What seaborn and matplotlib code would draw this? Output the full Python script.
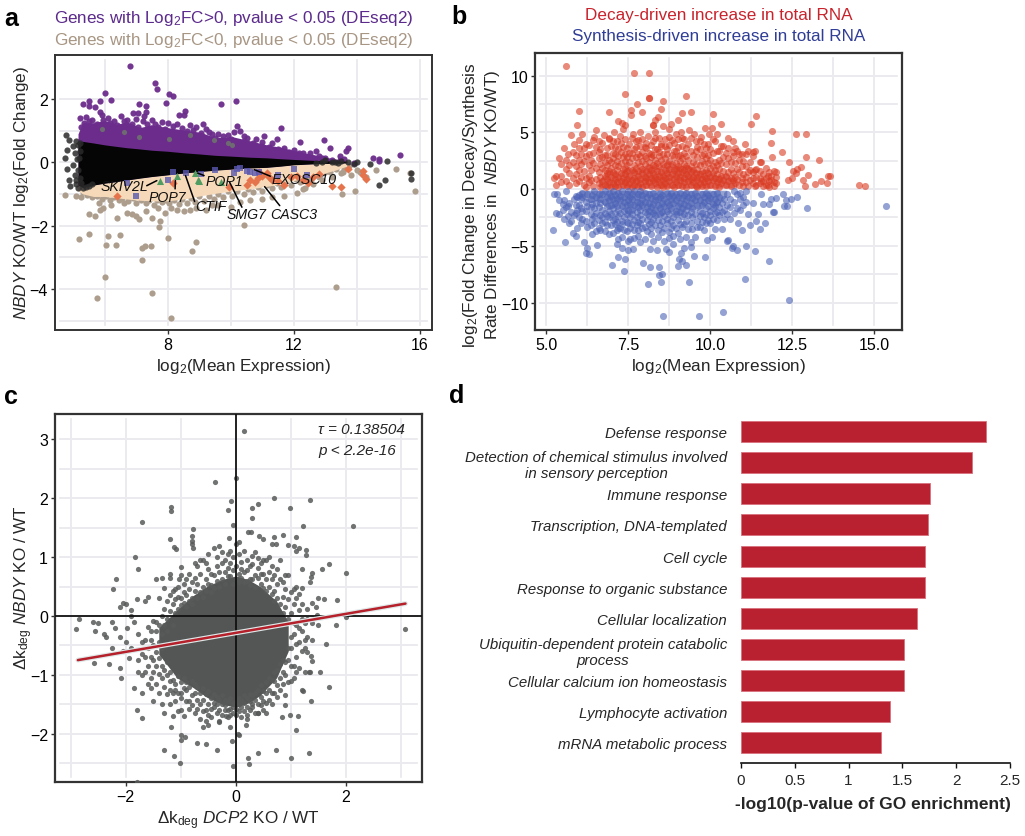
import matplotlib
matplotlib.use('Agg')
import matplotlib.pyplot as plt
from matplotlib.patches import Rectangle
import seaborn as sns
import numpy as np

# panel a - MA plot: the dense wedge is kept as envelopes, sparse genes as points
a_env_x = [5.15, 5.3, 5.64, 6.0, 6.38, 6.7, 7.12, 7.5, 7.97, 8.5, 9.03, 9.5, 10.08, 10.6, 11.14, 11.6, 11.99, 12.4, 12.84, 13.3, 13.68]
black_hi = [0.62, 0.66, 0.61, 0.55, 0.5, 0.46, 0.42, 0.38, 0.35, 0.3, 0.26, 0.22, 0.19, 0.16, 0.14, 0.11, 0.09, 0.07, 0.05, 0.04, 0.03]
black_lo = [-0.72, -0.8, -0.72, -0.66, -0.61, -0.56, -0.5, -0.45, -0.4, -0.34, -0.29, -0.25, -0.21, -0.18, -0.16, -0.12, -0.08, -0.06, -0.04, -0.03, -0.02]
purple_hi = [0.9, 1.25, 1.25, 1.32, 1.2, 1.28, 1.1, 1.18, 1.1, 1.02, 0.95, 0.78, 0.8, 0.68, 0.55, 0.47, 0.37, 0.28, 0.2, 0.1, 0.05]
peach_lo = [-0.9, -1.0, -1.08, -1.08, -1.12, -1.16, -1.2, -1.22, -1.22, -1.16, -1.06, -0.98, -0.9, -0.84, -0.76, -0.68, -0.58, -0.47, -0.38, -0.25, -0.12]

a_purple = [(6.8, 3.03), (7.6, 2.5), (7.67, 2.3), (6.0, 2.2), (8.05, 2.15), (8.15, 2.1), (6.2, 1.97), (5.5, 1.95), (5.85, 1.95),
            (5.3, 1.85), (5.5, 1.78), (5.7, 1.75), (7.95, 1.87), (9.7, 1.85), (10.15, 1.93), (7.1, 1.85), (7.3, 1.78), (5.85, 1.6),
            (7.3, 1.6), (8.55, 1.63), (8.5, 1.5), (8.35, 1.48), (6.9, 1.55), (7.05, 1.55), (7.25, 1.45), (7.5, 1.35), (9.1, 1.2),
            (10.2, 1.15), (10.4, 0.83), (11.6, 1.08), (11.05, 0.83), (11.45, 0.75), (12.2, 0.65), (12.95, 0.7), (13.15, 0.45),
            (13.7, 0.45), (13.65, 0.35), (13.45, 0.2), (13.6, 0.1), (14.5, 0.15), (14.7, 0.1), (14.7, 0.03), (15.35, 0.22),
            (12.7, 0.35), (12.8, 0.2), (12.5, 0.3), (12.6, 0.15), (12.9, 0.15), (5.2, 1.4), (5.4, 1.42), (5.6, 1.35), (5.9, 1.5),
            (6.1, 1.4), (6.3, 1.3), (6.5, 1.45), (6.7, 1.35), (7.0, 1.38), (7.2, 1.3), (7.6, 1.2), (7.8, 1.28), (8.0, 1.25),
            (8.3, 1.2), (8.7, 1.18), (8.9, 1.1), (9.2, 1.05), (9.4, 0.9), (9.6, 0.88), (9.9, 0.85), (10.1, 0.95), (10.3, 1.0),
            (10.5, 0.78), (10.8, 0.72), (11.0, 0.65), (11.3, 0.6), (11.7, 0.45), (12.0, 0.4), (12.3, 0.28), (13.0, 0.12), (13.9, -0.02),
            (5.25, 1.1), (5.35, 1.25), (5.5, 1.3), (5.75, 1.22), (5.95, 1.35), (6.15, 1.25), (6.4, 1.18), (6.6, 1.3), (6.85, 1.2),
            (7.05, 1.1), (7.35, 1.22), (7.45, 1.08), (7.7, 1.12), (7.9, 1.05), (8.15, 1.15), (8.45, 1.08), (8.6, 0.98), (8.8, 1.02),
            (9.05, 0.92), (9.3, 0.95), (9.5, 0.78), (9.75, 0.82), (10.0, 0.72), (10.4, 0.68), (10.7, 0.6), (10.95, 0.52), (11.2, 0.48),
            (11.5, 0.42), (11.85, 0.33), (12.15, 0.3), (12.45, 0.18), (12.75, 0.1), (13.2, 0.08), (13.45, 0.06)]
a_grey = [(5.9, 1.05), (6.6, 0.95), (7.1, 0.8), (8.05, 0.75), (8.7, 0.85), (9.9, 0.62), (10.05, 0.55), (9.45, 0.7)]
a_black = [(4.77, 0.85), (4.85, 0.7), (4.8, 0.4), (4.75, 0.15), (4.8, -0.22), (4.85, -0.55), (4.9, -0.75), (5.0, 0.5), (5.05, 0.3),
           (5.0, -0.1), (5.05, -0.4), (5.1, -0.7), (5.15, -0.8), (5.1, 0.68), (5.12, 0.1), (5.08, -0.55), (5.3, -0.82), (5.5, -0.75),
           (13.2, 0.02), (13.4, -0.02), (13.7, 0.02), (12.9, 0.02), (14.0, 0.0), (13.9, -0.05), (14.4, -0.05), (14.95, 0.05),
           (14.9, -0.55), (14.7, -0.73), (15.7, -0.35), (15.7, -0.53), (13.0, 0.06), (13.5, 0.03), (12.7, -0.03), (13.3, 0.0),
           (5.15, 0.55), (5.2, 0.35), (5.18, 0.15), (5.14, -0.25), (5.2, -0.5), (5.25, -0.65), (5.22, 0.62), (5.4, -0.78), (5.6, -0.7)]
a_tan = [(5.18, -2.44), (5.5, -2.26), (6.04, -2.6), (6.1, -2.33), (6.35, -2.61), (6.47, -2.3), (6.0, -3.61), (5.76, -4.29), (7.49, -4.13),
         (8.1, -4.92), (13.34, -3.93), (7.19, -2.7), (7.29, -2.63), (7.47, -2.65), (7.19, -3.09), (8.02, -2.4), (8.76, -2.81), (8.89, -2.52),
         (10.43, -1.98), (7.72, -2.05), (7.76, -1.84), (15.85, -0.9), (15.25, -0.21), (15.69, -0.33), (13.95, -0.9), (13.52, -1.0), (12.3, -0.86),
         (4.75, -1.02), (5.1, -1.05), (5.25, -1.1), (5.5, -1.65), (5.7, -1.7), (5.85, -1.5), (5.95, -1.45), (6.2, -1.35), (6.4, -1.75),
         (6.7, -1.6), (6.85, -1.65), (7.0, -1.7), (7.1, -1.78), (7.3, -1.55), (7.5, -1.75), (7.9, -1.6), (8.1, -1.45), (8.3, -1.5),
         (8.5, -1.55), (8.7, -1.5), (8.9, -1.45), (9.2, -1.5), (9.6, -1.35), (10.0, -1.4), (10.3, -1.25), (10.6, -1.2), (11.0, -1.15),
         (11.3, -1.1), (11.7, -1.05), (12.1, -0.98), (12.35, -0.82), (12.6, -0.7), (12.9, -0.55), (13.2, -0.45), (13.5, -0.35), (13.8, -0.4),
         (14.1, -0.3), (14.3, -0.45), (14.0, -0.25), (13.6, -0.2), (14.6, -0.25), (5.8, -1.3), (6.6, -1.3), (7.7, -1.45), (9.4, -1.35),
         (5.3, -0.95), (5.45, -1.02), (5.6, -1.1), (5.75, -1.05), (5.9, -1.15), (6.05, -1.05), (6.15, -1.2), (6.3, -1.1), (6.45, -1.2), (6.55, -1.12),
         (6.75, -1.22), (6.9, -1.12), (7.0, -1.3), (7.15, -1.18), (7.3, -1.28), (7.4, -1.18), (7.55, -1.35), (7.65, -1.2), (7.8, -1.25), (7.95, -1.18),
         (8.05, -1.3), (8.2, -1.2), (8.35, -1.32), (8.45, -1.15), (8.6, -1.3), (8.75, -1.12), (8.85, -1.25), (9.0, -1.08), (9.15, -1.22), (9.3, -1.05),
         (9.45, -1.15), (9.6, -1.0), (9.75, -1.1), (9.9, -0.92), (10.05, -1.05), (10.2, -0.9), (10.4, -1.0), (10.55, -0.85), (10.7, -0.95), (10.85, -0.78),
         (11.0, -0.9), (11.15, -0.72), (11.3, -0.82), (11.45, -0.66), (11.6, -0.78), (11.75, -0.6), (11.9, -0.72), (12.05, -0.52), (12.2, -0.62), (12.35, -0.45),
         (12.5, -0.55), (12.65, -0.38), (12.8, -0.45), (13.0, -0.3), (13.15, -0.32), (13.35, -0.22), (13.55, -0.3), (13.75, -0.12)]
a_orange = [(6.4, -1.07), (8.15, -0.65), (9.95, -0.78), (10.5, -0.72), (10.6, -0.55), (10.75, -0.62), (10.85, -0.5), (11.0, -0.42), (11.15, -0.35),
            (11.3, -0.55), (11.5, -0.6), (11.7, -0.72), (11.9, -0.45), (12.1, -0.42), (12.3, -0.55), (12.6, -0.45), (12.8, -0.38), (13.2, -0.75),
            (13.5, -0.78), (13.7, -0.2), (14.2, -0.4), (14.3, -0.52), (14.2, -0.28), (10.9, -0.3), (11.2, -0.48), (12.45, -0.65)]
a_square = [(6.7, -0.65), (7.0, -1.07), (8.0, -0.55), (8.15, -0.32), (9.05, -0.37), (9.5, -0.25), (10.1, -0.35), (10.2, -0.2), (10.3, -0.18),
            (10.5, -0.28), (10.6, -0.3), (10.75, -0.33), (10.9, -0.32), (11.5, -0.4), (12.0, -0.2), (12.4, -0.4), (8.56, -0.35)]
a_triangle = [(7.75, -0.58), (8.3, -0.42), (8.85, -0.35), (8.95, -0.55), (9.0, -0.58), (9.7, -0.62)]
a_labels = ['SKIV2L', 'POP7', 'CTIF', 'POP1', 'SMG7', 'CASC3', 'EXOSC10']
a_label_x = [6.61, 8.0, 9.37, 9.8, 10.5, 12.01, 12.33]
a_label_y = [-0.74, -1.1, -1.39, -0.58, -1.65, -1.65, -0.53]
a_tip_x = [7.65, 8.24, 8.56, 8.94, 9.96, 11.07, 10.74]
a_tip_y = [-0.58, -0.58, -0.42, -0.34, -0.63, -0.77, -0.23]
a_tail_x = [7.33, 8.23, 8.85, 9.15, 10.35, 11.55, 11.25]
a_tail_y = [-0.74, -0.84, -1.24, -0.42, -1.42, -1.37, -0.44]

# panel b
red_core_x = [6.6, 6.9, 7.2, 7.5, 7.8, 8.1, 8.4, 8.7, 9.0, 9.3, 9.6, 9.9, 10.2, 10.5, 10.8]
red_core_hi = [0.8, 1.7, 1.4, 2.0, 1.6, 2.3, 1.9, 2.6, 2.0, 2.2, 1.6, 1.8, 1.2, 1.4, 0.6]
blue_core_x = [6.0, 6.3, 6.6, 6.9, 7.2, 7.5, 7.8, 8.1, 8.4, 8.7, 9.0, 9.3, 9.6, 9.9, 10.2, 10.5]
blue_core_lo = [-0.6, -1.2, -1.0, -1.8, -1.5, -2.3, -1.7, -2.1, -2.5, -2.0, -2.4, -1.7, -1.9, -1.3, -1.5, -0.6]
red_points = [(5.6, 10.85), (7.68, 10.26), (8.14, 10.26), (7.4, 8.35), (8.12, 8.06), (8.12, 8.06), (9.25, 8.24), (8.57, 7.74), (7.75, 7.53), (6.0, 6.88),
              (6.9, 6.82), (7.57, 7.0), (7.58, 6.53), (7.93, 6.82), (8.51, 7.03), (9.13, 6.68), (9.4, 6.76), (10.07, 6.59), (11.4, 6.41), (11.23, 5.76),
              (10.33, 5.7), (5.95, 5.62), (8.24, 5.68), (8.24, 5.68), (8.41, 6.38), (8.31, 6.12), (7.18, 6.03), (7.3, 5.82), (7.4, 5.65), (11.88, 5.09),
              (12.61, 4.82), (12.92, 4.85), (11.86, 4.06), (12.19, 3.26), (12.91, 2.85), (11.88, 2.82), (13.3, 2.56), (12.41, 2.41), (12.76, 1.97), (12.65, 1.76),
              (12.53, 1.62), (12.97, 1.26), (12.37, 0.82), (12.83, 0.76), (12.88, 0.24), (13.18, 0.44), (13.38, 0.74), (13.56, 0.5), (13.58, 1.2), (13.65, 1.2),
              (14.53, 0.38), (14.72, 0.24), (5.25, 0.95), (5.4, 2.7), (5.55, 3.65), (5.65, 3.1), (5.75, 4.8), (5.85, 4.0), (6.0, 4.3), (6.1, 4.85),
              (6.45, 4.6), (6.5, 5.2), (6.75, 4.8), (6.9, 4.5), (7.05, 5.0), (7.25, 4.7), (7.35, 5.3), (7.65, 4.9), (7.85, 5.0), (8.1, 4.7),
              (8.3, 5.0), (8.55, 5.6), (8.75, 5.3), (8.8, 5.75), (8.95, 4.9), (9.0, 6.1), (9.1, 5.0), (9.35, 5.2), (9.5, 4.9), (9.7, 4.6),
              (9.85, 5.4), (9.95, 4.9), (10.05, 5.4), (10.2, 4.9), (10.55, 4.5), (10.7, 4.2), (11.05, 4.0), (11.3, 3.3), (12.5, 1.0), (12.6, 1.4)]
# x position, then the y values read along that column
red_columns = [(5.3, [1.2, 0.4]), (5.45, [1.2, 0.6, 2.2]), (5.6, [1.8, 0.7, 2.6]), (5.7, [0.4, 1.4, 2.1]), (5.8, [2.4, 1.0, 3.3]), (5.9, [1.3, 0.5, 2.0, 3.0]),
               (6.0, [0.7, 1.7, 2.6, 3.6]), (6.05, [2.2, 1.1, 3.1]), (6.15, [3.6, 1.6, 0.4, 2.5]), (6.2, [1.0, 2.9, 4.0, 0.2]), (6.3, [3.9, 1.2, 2.1, 3.1, 0.6]),
               (6.35, [0.8, 2.6, 1.7]), (6.42, [3.2, 2.3, 0.3, 4.3]), (6.5, [1.9, 0.9, 3.7]), (6.6, [2.7, 0.5, 1.5, 3.3, 4.2]), (6.65, [3.5, 1.1, 2.2, 0.2]),
               (6.7, [4.1, 0.7, 1.9, 2.8]), (6.78, [1.2, 3.0, 0.4, 2.4, 1.7]), (6.85, [3.0, 0.9, 2.1, 1.4, 0.3, 3.6]), (6.9, [1.6, 2.6, 0.6, 4.4]), (6.97, [2.4, 3.8, 1.1, 0.2, 1.9]),
               (7.03, [3.2, 0.5, 1.5, 2.7, 4.2]), (7.1, [0.9, 2.1, 3.1, 1.3, 0.3, 3.7]), (7.15, [4.2, 1.7, 2.5, 0.6]), (7.2, [2.9, 1.1, 0.2, 2.0, 3.5]), (7.27, [1.4, 3.3, 0.7, 2.3, 4.1]),
               (7.33, [0.4, 1.8, 2.8, 3.7, 1.0]), (7.4, [2.5, 1.3, 0.6, 3.1, 4.4, 1.9]), (7.47, [2.8, 0.3, 1.6, 2.1, 0.9, 3.6]), (7.53, [4.0, 1.2, 2.4, 0.5, 3.2]), (7.6, [3.2, 1.7, 0.8, 2.7, 0.2, 4.5]),
               (7.67, [1.0, 2.1, 3.5, 0.4, 1.5]), (7.73, [3.7, 0.7, 2.8, 1.9, 4.2]), (7.8, [4.3, 1.2, 0.3, 2.4, 3.1, 1.6]), (7.87, [0.9, 2.0, 2.9, 3.8, 0.5]), (7.93, [3.3, 1.4, 2.5, 0.2, 4.4, 1.8]),
               (8.0, [2.9, 0.7, 1.1, 2.2, 3.7]), (8.05, [3.6, 1.6, 0.4, 2.7, 1.0, 4.1]), (8.12, [1.9, 3.2, 0.6, 2.4, 1.3]), (8.18, [3.1, 0.3, 1.7, 2.8, 3.9, 1.0]), (8.25, [4.2, 2.1, 0.8, 1.4, 3.0]),
               (8.3, [0.5, 2.6, 1.1, 3.5, 2.0, 4.5]), (8.37, [3.5, 1.6, 0.2, 2.3, 0.9]), (8.43, [4.5, 2.9, 1.2, 0.6, 2.0, 3.3]), (8.5, [1.5, 3.8, 0.4, 2.6, 4.0]), (8.55, [2.2, 0.8, 3.1, 1.2, 0.2]),
               (8.62, [3.8, 1.7, 2.7, 0.5, 4.4, 1.0]), (8.68, [3.1, 0.3, 2.1, 1.4, 3.5]), (8.75, [2.5, 0.7, 1.8, 3.9, 1.1, 4.6]), (8.82, [1.3, 3.0, 0.4, 2.2, 4.3]), (8.88, [4.1, 0.9, 1.7, 2.8, 3.4, 0.2]),
               (8.95, [3.4, 1.2, 2.3, 0.6, 1.8]), (9.0, [2.9, 0.4, 1.4, 4.4, 2.0, 3.7]), (9.07, [3.0, 0.8, 1.9, 2.5, 1.1]), (9.13, [3.8, 0.3, 1.5, 2.7, 4.5]), (9.2, [4.4, 1.0, 2.2, 0.6, 3.2, 1.7]),
               (9.27, [2.9, 0.2, 1.3, 2.0, 3.6]), (9.33, [1.8, 0.7, 2.6, 4.0, 1.2]), (9.4, [3.4, 0.4, 2.0, 1.5, 4.5, 0.9]), (9.47, [2.4, 1.1, 3.0, 0.6, 1.7]), (9.55, [4.2, 1.4, 0.3, 2.2, 3.4]),
               (9.6, [2.8, 0.8, 1.8, 1.1, 3.7, 0.2]), (9.67, [3.5, 1.3, 2.1, 0.5, 4.2]), (9.73, [2.5, 0.9, 1.6, 3.0, 0.3]), (9.8, [3.1, 1.2, 0.6, 2.2, 4.0]), (9.87, [1.7, 0.3, 2.7, 1.0, 3.6]),
               (9.93, [4.0, 1.4, 0.7, 2.3, 3.0]), (10.0, [3.5, 0.4, 1.9, 1.1, 2.6]), (10.07, [2.0, 0.8, 3.2, 1.4, 4.4]), (10.13, [4.2, 1.0, 0.3, 2.4, 1.7]), (10.2, [1.3, 3.4, 0.6, 2.1]),
               (10.27, [3.4, 0.9, 1.8, 0.2, 2.6]), (10.33, [2.3, 1.2, 0.5, 3.8]), (10.4, [3.8, 1.6, 0.8, 2.8]), (10.47, [0.4, 2.2, 1.2, 3.2]), (10.55, [2.7, 0.7, 1.5, 3.6]),
               (10.62, [1.8, 0.3, 2.4, 1.0]), (10.7, [3.3, 0.8, 1.4, 2.9]), (10.75, [2.3, 0.5, 3.6, 1.1]), (10.82, [3.4, 1.8, 0.9]), (10.88, [1.5, 0.4, 2.6, 3.1]),
               (10.95, [3.1, 1.0, 2.0, 0.6]), (11.0, [1.3, 0.3, 2.5]), (11.1, [2.0, 1.1, 0.6, 3.1]), (11.15, [3.4, 1.5, 0.3]), (11.2, [0.8, 1.7, 2.4]),
               (11.3, [1.5, 0.5, 1.0, 2.9]), (11.35, [1.7, 0.3, 3.4]), (11.4, [0.4, 1.1, 1.8]), (11.5, [1.0, 2.4, 1.6, 0.5]), (11.55, [2.4, 0.7]), (11.6, [0.7, 1.3, 0.3]),
               (11.7, [1.0, 0.4, 1.9]), (11.75, [0.4, 1.2]), (11.8, [1.5, 0.7, 0.2]), (11.85, [0.8, 1.2]), (11.95, [0.6, 1.6, 0.3]), (12.0, [1.1, 0.5, 1.5])]
blue_points = [(5.2, -3.6), (5.3, -2.1), (5.57, -4.7), (5.8, -3.9), (5.9, -4.1), (6.15, -4.7), (6.2, -5.6), (6.25, -5.2), (6.3, -5.75), (6.55, -4.9),
               (7.0, -6.65), (7.15, -4.8), (7.2, -5.95), (7.32, -5.2), (7.38, -7.25), (7.4, -6.2), (7.5, -5.4), (7.65, -5.3), (7.85, -4.7), (7.95, -6.55),
               (8.1, -8.4), (8.15, -5.3), (8.15, -6.85), (8.38, -5.35), (8.45, -7.6), (8.45, -6.85), (8.5, -8.15), (8.52, -7.45), (8.55, -11.2), (8.65, -5.3),
               (8.75, -5.5), (8.85, -4.8), (9.0, -6.8), (9.05, -6.2), (9.1, -5.6), (9.15, -6.3), (9.2, -5.2), (9.25, -6.7), (9.35, -8.15), (9.4, -5.1),
               (9.5, -5.9), (9.65, -11.2), (9.85, -5.95), (9.9, -4.5), (10.05, -4.2), (10.37, -10.8), (10.5, -4.6), (10.55, -4.5), (10.65, -5.2), (10.7, -5.0),
               (10.8, -5.4), (10.85, -3.0), (10.95, -3.6), (11.05, -7.95), (11.1, -5.05), (11.2, -3.2), (11.35, -5.45), (11.4, -2.8), (11.5, -3.5), (11.55, -0.4),
               (11.6, -1.3), (11.65, -3.0), (11.8, -1.3), (11.8, -6.3), (11.85, -0.9), (11.9, -2.0), (11.95, -2.0), (12.0, -0.8), (12.2, -0.4), (12.25, -1.5),
               (12.3, -1.0), (12.35, -1.45), (12.4, -9.75), (12.45, -0.9), (12.65, -0.7), (12.93, -1.65), (15.35, -1.5), (11.3, -1.2), (11.15, -2.2), (11.45, -2.2)]
blue_columns = [(5.25, [-0.4]), (5.32, [-0.45]), (5.4, [-1.0, -2.2]), (5.5, [-1.3, -1.8]), (5.55, [-2.6, -1.0]), (5.6, [-0.2, -1.6]), (5.65, [-1.5, -2.4]), (5.7, [-3.0, -1.2]), (5.75, [-2.8, -2.0]),
                (5.85, [-0.9, -2.3]), (5.9, [-2.1, -1.4, -0.6]), (5.95, [-3.4, -0.7, -1.8]), (6.0, [-1.4, -0.5, -2.5]), (6.05, [-3.0, -0.9, -1.7]), (6.1, [-0.7, -2.6, -1.9, -0.3]), (6.2, [-1.9, -2.8, -1.1]),
                (6.25, [-0.4, -3.3, -1.5]), (6.35, [-3.2, -0.9, -2.2, -1.6]), (6.4, [-4.0, -1.3, -0.5, -2.6]), (6.45, [-2.4, -0.2, -3.0, -1.7]), (6.5, [-3.7, -1.2, -0.7, -2.1]), (6.6, [-1.6, -2.7, -0.4, -3.4]),
                (6.65, [-2.3, -0.9, -1.2, -3.6]), (6.7, [-3.0, -0.4, -1.8, -2.5]), (6.78, [-1.1, -3.7, -2.1, -0.2, -2.9]), (6.85, [-2.4, -0.7, -1.5, -3.2]), (6.9, [-2.5, -4.0, -1.0, -0.3, -1.9]), (6.97, [-3.2, -0.6, -2.2, -1.4]),
                (7.02, [-3.9, -1.7, -0.2, -2.7, -0.9]), (7.1, [-3.1, -1.2, -2.1, -0.5, -2.6]), (7.15, [-1.5, -3.6, -0.9, -2.9]), (7.2, [-0.3, -2.4, -1.8, -3.4, -4.4]), (7.25, [-3.4, -1.0, -2.1, -0.6]), (7.3, [-4.2, -1.5, -2.8, -0.2, -3.1]),
                (7.37, [-2.5, -1.1, -0.7, -3.6, -1.9]), (7.45, [-3.7, -2.2, -0.4, -1.4, -2.9]), (7.5, [-1.0, -3.0, -4.6, -1.8, -0.2]), (7.55, [-4.4, -2.5, -0.7, -1.3, -3.4]), (7.6, [-3.1, -1.8, -2.2, -0.4, -0.9]), (7.68, [-4.3, -1.4, -2.7, -0.2, -3.6]),
                (7.75, [-2.0, -3.2, -0.7, -1.1, -2.5]), (7.8, [-3.6, -1.6, -0.4, -2.9, -4.1]), (7.87, [-1.2, -2.3, -3.0, -0.2, -1.8]), (7.93, [-3.4, -0.9, -2.6, -1.4, -0.5]), (8.0, [-3.3, -2.0, -4.4, -1.1, -0.3]), (8.07, [-2.7, -0.7, -3.7, -1.6, -2.2]),
                (8.13, [-1.2, -3.1, -0.4, -2.4, -1.9]), (8.2, [-4.0, -1.6, -2.9, -0.8, -3.4]), (8.25, [-4.6, -0.3, -2.1, -1.3, -2.6]), (8.32, [-3.2, -1.8, -0.6, -2.3, -1.0]), (8.4, [-3.6, -0.9, -2.7, -1.4, -4.2]), (8.47, [-2.2, -0.3, -3.2, -1.7, -0.7]),
                (8.53, [-1.2, -2.8, -3.8, -2.0, -0.5]), (8.6, [-4.6, -1.5, -0.9, -2.4, -3.4]), (8.67, [-3.0, -0.3, -1.9, -2.6, -1.1]), (8.73, [-3.8, -1.4, -2.2, -0.6, -4.3]), (8.8, [-2.8, -0.9, -1.7, -3.4, -0.3]), (8.87, [-1.2, -2.5, -0.6, -3.2, -4.1]),
                (8.95, [-3.4, -1.9, -0.4, -2.2, -1.0]), (9.0, [-3.9, -1.5, -2.7, -0.7]), (9.07, [-2.0, -0.3, -3.1, -1.2, -4.4]), (9.13, [-3.3, -2.4, -0.8, -1.7]), (9.2, [-3.1, -0.5, -1.3, -2.2]), (9.27, [-4.2, -1.8, -2.8, -0.3, -1.0]),
                (9.33, [-2.3, -0.7, -3.5, -1.5]), (9.4, [-3.0, -1.2, -0.4, -2.0, -4.7]), (9.45, [-3.5, -1.7, -2.5, -0.8]), (9.52, [-4.2, -1.0, -2.2, -0.3]), (9.6, [-2.8, -1.4, -0.6, -3.3]), (9.67, [-3.3, -1.9, -1.0, -2.4]),
                (9.73, [-0.4, -2.1, -1.4, -2.9]), (9.8, [-3.6, -1.1, -2.5, -0.7]), (9.87, [-1.7, -0.3, -2.2, -3.0]), (9.93, [-2.7, -1.0, -1.5, -0.5]), (10.0, [-3.0, -1.9, -0.8, -2.3]), (10.07, [-1.3, -2.6, -0.4, -1.7]),
                (10.13, [-2.1, -0.9, -3.5, -1.5]), (10.2, [-2.7, -1.1, -2.0, -0.3]), (10.27, [-0.7, -1.6, -2.3]), (10.35, [-3.5, -1.2, -2.0]), (10.42, [-0.9, -1.8, -2.6]), (10.5, [-0.4, -2.2, -1.4]),
                (10.6, [-2.6, -0.9, -1.6]), (10.72, [-1.1, -0.2, -2.1]), (10.8, [-0.4, -1.7]), (10.9, [-1.8, -0.3, -0.9]), (11.0, [-0.7, -1.4]), (11.1, [-0.2, -1.1])]

# panel c
c_core_x = [-1.4, -1.07, -0.77, -0.53, -0.25, 0.0, 0.22, 0.44, 0.74, 0.95]
c_core_hi = [-0.2, 0.1, 0.35, 0.5, 0.62, 0.68, 0.62, 0.5, 0.25, -0.1]
c_core_lo = [-0.65, -1.05, -1.22, -1.38, -1.5, -1.55, -1.48, -1.35, -1.05, -0.6]
c_points = [(0.15, 3.14), (-0.38, 2.28), (0.0, 2.35), (-0.09, 1.95), (-0.15, 1.8), (0.3, 1.84), (0.4, 1.9), (0.7, 2.0), (0.98, 1.83), (1.35, 1.97),
            (-1.18, 1.85), (-1.18, 1.78), (-1.7, 1.6), (0.3, 1.67), (-0.05, 1.55), (1.22, 1.52), (2.12, 1.52), (0.22, 1.43), (0.27, 1.43), (-0.78, 1.48),
            (-0.79, 1.35), (-0.79, 1.28), (-0.8, 1.22), (-0.78, 1.15), (-1.2, 1.3), (-1.12, 1.17), (-1.08, 1.14), (-1.84, 1.0), (-1.77, 0.8), (-2.18, 0.63),
            (-2.24, 0.45), (-0.12, 1.33), (0.06, 1.25), (0.42, 1.36), (0.5, 1.3), (0.7, 1.34), (0.85, 1.37), (1.1, 1.34), (0.65, 1.23), (0.72, 1.23),
            (0.95, 1.2), (1.05, 1.18), (1.1, 1.1), (1.15, 1.15), (1.28, 1.12), (1.28, 1.03), (1.7, 0.88), (2.0, 0.73), (1.57, 0.8), (1.38, 0.73),
            (1.37, 0.66), (1.34, 0.58), (1.2, 0.8), (-1.0, 0.83), (-1.0, 0.7), (-1.2, 0.72), (-1.2, 0.65), (-1.03, 0.62), (-1.35, 0.65), (-1.45, 0.62),
            (-1.65, 0.25), (-1.6, 0.33), (-1.9, 0.1), (-2.0, 0.2), (-2.05, 0.22), (-2.1, 0.15), (-1.8, 0.28), (-1.9, 0.0), (-2.25, -0.1), (-2.6, -0.1),
            (-2.5, -0.12), (-2.85, -0.05), (-2.9, -0.22), (-2.55, -0.25), (-2.4, -0.3), (-2.35, -0.35), (-2.2, -0.2), (-2.1, -0.35), (-1.98, -0.2), (-2.0, -0.45),
            (-1.85, -0.1), (-2.25, -0.55), (-2.3, -0.82), (-2.57, -0.8), (-2.05, -0.6), (-1.9, -0.55), (-1.95, -0.72), (-2.1, -0.88), (-2.08, -1.05), (-1.85, -1.22),
            (-1.8, -1.6), (-1.7, -1.74), (-1.18, -1.88), (-1.0, -2.02), (-1.0, -2.1), (-0.92, -2.05), (-0.7, -2.15), (-0.55, -2.17), (-0.35, -2.27), (-1.3, -2.28),
            (-1.12, -2.38), (-1.02, -2.5), (-1.8, -2.82), (-0.07, -2.12), (0.03, -2.0), (0.05, -2.02), (-0.05, -2.55), (0.22, -2.42), (0.24, -2.52), (0.4, -2.32),
            (0.73, -2.27), (1.0, -2.42), (1.32, -2.32), (1.1, -1.93), (1.12, -1.7), (0.98, -1.68), (0.83, -1.72), (0.9, -1.52), (1.2, -1.25), (1.22, -1.28),
            (1.35, -0.95), (1.32, -0.95), (1.36, -1.44), (1.7, -1.2), (1.52, -0.96), (1.37, -0.68), (1.38, -0.76), (1.63, -0.48), (1.82, -0.15), (1.5, -0.15),
            (1.83, 0.27), (1.6, 0.28), (1.5, 0.3), (1.45, 0.15), (1.48, 0.02), (2.0, -0.02), (3.07, -0.22), (-0.5, -1.85), (-0.6, -1.88), (-0.1, -1.88),
            (-0.3, -1.8), (-0.18, -1.7), (0.18, -1.85), (0.2, -1.75), (0.4, -1.65), (0.55, -1.65)]
c_columns = [(-1.78, [-0.3, -0.95, -0.75]), (-1.7, [-0.65, -1.3, -0.45, -1.0]), (-1.6, [-0.18, -0.85, -0.55, -1.15]), (-1.55, [-0.4, -1.05, -0.7, -1.22, -0.25]),
             (-1.5, [-0.08, -0.75, -1.45, -0.95, -0.5]), (-1.45, [-0.25, -1.15, -0.62, -0.85, -0.1]), (-1.4, [0.3, -0.45, -1.3, -0.98, -0.72, -0.15]), (-1.35, [0.0, -0.3, -1.05, -1.5, -0.55, -0.85]),
             (-1.3, [0.48, -0.15, -1.65, -0.92, -1.2, 0.12]), (-1.25, [-0.05, -0.25, -1.0, -1.32, 0.25, -0.78]), (-1.2, [0.08, 0.35, -1.5, -1.1, -0.95, -1.25]), (-1.15, [-0.15, 0.2, 0.42, -1.3, -1.7, -1.08]),
             (-1.1, [0.45, 0.05, 0.28, -1.45, -1.15, -1.25]), (-1.05, [0.12, 0.32, -1.02, -1.3, -1.62, 0.5]), (-1.0, [0.3, 0.18, -1.3, -1.6, -1.12, -1.4]), (-0.95, [0.55, 0.22, 0.4, -1.05, -1.7, -1.22]),
             (-0.9, [0.15, 0.62, 0.35, -1.25, -1.45, -1.12]), (-0.85, [0.45, 0.25, 0.72, -1.45, -1.2, -1.58]), (-0.8, [0.3, 0.58, 0.2, -1.1, -1.35, -1.52]), (-0.75, [0.9, 0.42, 0.65, -1.65, -1.3, -1.15]),
             (-0.7, [0.55, 0.85, 0.3, -1.42, -1.2, -1.58]), (-0.65, [0.72, 0.4, 0.95, -1.3, -1.5, -1.75]), (-0.6, [0.95, 0.5, 0.32, -1.42, -1.62, -1.22]), (-0.55, [0.9, 0.62, 0.42, -1.6, -1.32, -1.78]),
             (-0.5, [0.8, 0.55, 1.05, -1.5, -1.28, -1.68]), (-0.45, [0.52, 0.72, 0.4, -1.4, -1.58, -1.72]), (-0.4, [1.15, 0.7, 0.48, -1.55, -1.32, -1.48]), (-0.35, [0.85, 0.6, 1.0, -1.5, -1.65, -1.38]),
             (-0.3, [1.18, 0.5, 0.75, -1.42, -1.6, -1.78]), (-0.25, [0.9, 0.62, 1.08, -1.5, -1.35, -1.68]), (-0.2, [0.75, 0.55, 0.95, -1.6, -1.42, -1.52]), (-0.15, [1.05, 0.68, 0.82, -1.45, -1.72, -1.6]),
             (-0.1, [1.1, 0.68, 0.9, -1.58, -1.4, -1.68]), (-0.05, [0.78, 1.0, 0.55, -1.48, -1.65, -1.55]), (0.0, [0.85, 0.62, 1.22, -1.68, -1.45, -1.58]), (0.05, [1.05, 0.72, 0.58, -1.5, -1.62, -1.4]),
             (0.1, [0.92, 0.65, 0.8, -1.55, -1.42, -1.72]), (0.15, [1.1, 0.58, 0.75, -1.48, -1.62, -1.35]), (0.2, [0.78, 0.95, 0.6, -1.55, -1.4, -1.68]), (0.25, [0.62, 0.85, 0.52, -1.45, -1.6, -1.32]),
             (0.3, [0.62, 0.88, 1.02, -1.55, -1.35, -1.5]), (0.35, [1.08, 0.7, 0.5, -1.42, -1.65, -1.3]), (0.4, [0.98, 0.65, 0.82, -1.5, -1.65, -1.25]), (0.45, [0.55, 0.9, 0.72, -1.38, -1.52, -1.18]),
             (0.5, [0.72, 0.48, 0.95, -1.45, -1.28, -1.6]), (0.55, [0.95, 0.62, 0.42, -1.3, -1.12, -1.48]), (0.6, [1.0, 0.5, 0.75, -1.25, -1.42, -1.05]), (0.65, [0.62, 0.85, 0.38, -1.3, -1.08, -1.5]),
             (0.7, [0.7, 0.42, 0.25, -1.3, -1.1, -0.95]), (0.75, [0.55, 0.3, 0.8, -1.18, -1.38, -0.92]), (0.8, [0.95, 0.62, 0.2, -1.05, -0.82, -1.25]), (0.85, [0.58, 0.32, 0.05, -1.15, -0.95, -0.75]),
             (0.9, [0.45, 0.15, 0.7, -1.0, -0.78, -1.35]), (0.95, [0.7, 0.28, -0.05, -0.75, -0.55, -1.12]), (1.0, [0.05, 0.4, -0.35, -0.55, -1.1, -0.85]), (1.05, [0.45, 0.2, -0.3, -0.85, -1.05, -0.12]),
             (1.1, [0.5, 0.3, -0.7, -0.48, -0.95, -0.15]), (1.15, [-0.45, 0.1, -0.2, -0.88, 0.38]), (1.2, [0.2, -0.25, -0.6, -0.05, 0.48]), (1.25, [-0.55, -0.12, -0.95, -0.4]), (1.3, [-0.35, -0.05, -0.62, 0.12]),
             (1.38, [-0.4, -0.12, 0.22]), (-1.65, [-0.4, -0.7, -0.95])]
c_line_x = [-2.87, 3.08]
c_line_y = [-0.75, 0.21]

# panel d
go_terms = ['Defense response', 'Detection of chemical stimulus involved\nin sensory perception', 'Immune response',
            'Transcription, DNA-templated', 'Cell cycle', 'Response to organic substance', 'Cellular localization',
            'Ubiquitin-dependent protein catabolic\nprocess', 'Cellular calcium ion homeostasis', 'Lymphocyte activation',
            'mRNA metabolic process']
go_values = [2.274, 2.15, 1.753, 1.74, 1.708, 1.708, 1.639, 1.514, 1.514, 1.385, 1.305]

sns.set_theme(style='white')
plt.rcParams['font.family'] = ['Liberation Sans', 'DejaVu Sans']
plt.rcParams['mathtext.fontset'] = 'custom'
plt.rcParams['mathtext.rm'] = 'Liberation Sans'
plt.rcParams['mathtext.it'] = 'Liberation Sans:italic'
plt.rcParams['mathtext.bf'] = 'Liberation Sans:bold'

W, H = 1025, 837
fig = plt.figure(figsize=(W / 100, H / 100), dpi=100)


def panel(left, top, right, bottom):
    return fig.add_axes([left / W, 1 - bottom / H, (right - left) / W, (bottom - top) / H])


def style(ax, xmaj, xmin, ymaj, ymin, lw=1.4):
    # theme_bw look: light grid, dark frame, grid stops just short of the frame
    ax.set_xticks(xmaj)
    ax.set_xticks(xmin, minor=True)
    ax.set_yticks(ymaj)
    ax.set_yticks(ymin, minor=True)
    ax.set_axisbelow(True)
    ax.grid(True, which='both', color='#ebebef', lw=1.4)
    ax.add_patch(Rectangle((0, 0), 1, 1, transform=ax.transAxes, fill=False, ec='white', lw=6, zorder=1))
    for s in ax.spines.values():
        s.set_visible(True)
        s.set_color('#333333')
        s.set_linewidth(lw)
    ax.tick_params(axis='both', which='major', length=3, width=1, color='#333333', labelsize=11.5, pad=2, labelcolor='black', bottom=True, left=True)
    ax.tick_params(axis='both', which='minor', length=0)


def expand(rows):
    return [(x, y) for x, ys in rows for y in ys]


def points(ax, pts, color, s, alpha=1.0, marker='o', zorder=3):
    xy = np.array(pts)
    sns.scatterplot(x=xy[:, 0], y=xy[:, 1], ax=ax, color=color, s=s, alpha=alpha, marker=marker, linewidth=0, zorder=zorder, legend=False)


# a
ax_a = panel(55, 56, 432, 331)
ax_a.fill_between(a_env_x, peach_lo, black_lo, color='#f6d9b8', lw=0, zorder=2.25)
ax_a.fill_between(a_env_x, black_lo, purple_hi, color='#6b2c8c', lw=0, zorder=2.2)
points(ax_a, a_purple, '#6b2c8c', 20, 0.95, zorder=2.3)
points(ax_a, a_grey, '#6e6a72', 14, zorder=2.35)
points(ax_a, a_tan, '#ad9d8d', 20, zorder=2.2)
ax_a.fill_between(a_env_x, black_lo, black_hi, color='#050505', lw=0, zorder=2.4)
points(ax_a, a_black, '#2a2a2a', 20, 0.85, zorder=2.5)
points(ax_a, a_orange, '#e5734c', 18, marker='D', zorder=3)
points(ax_a, a_square, '#5a58b0', 18, 0.8, marker='s', zorder=3)
points(ax_a, a_triangle, '#4f9d63', 26, marker='^', zorder=3)
for name, lx, ly, tx, ty, ex, ey in zip(a_labels, a_label_x, a_label_y, a_tail_x, a_tail_y, a_tip_x, a_tip_y):
    ax_a.plot([tx, ex], [ty, ey], color='black', lw=1.1, zorder=4)
    ax_a.text(lx, ly, name, style='italic', fontsize=10.2, ha='center', va='center', color='#111111', zorder=5)
ax_a.set_xlim(4.42, 16.38)
ax_a.set_ylim(-5.3, 3.39)
style(ax_a, [8, 12, 16], [6, 10, 14], [-4, -2, 0, 2], [-5, -3, -1, 1])
ax_a.set_xlabel(r'log$_2$(Mean Expression)', fontsize=12.3, labelpad=3)
ax_a.set_ylabel(r'$\mathit{NBDY}$ KO/WT log$_2$(Fold Change)', fontsize=12.3)
ax_a.yaxis.set_label_coords(-0.064, 0.5)

# b
ax_b = panel(535, 54, 902, 331)
ax_b.fill_between(red_core_x, 0.1, red_core_hi, color='#cc2418', alpha=0.55, lw=0, zorder=2)
ax_b.fill_between(blue_core_x, -0.1, blue_core_lo, color='#3f58aa', alpha=0.55, lw=0, zorder=2)
points(ax_b, red_points + expand(red_columns), '#d93a22', 26, 0.6)
points(ax_b, blue_points + expand(blue_columns), '#4c62b6', 26, 0.6)
ax_b.set_xlim(4.656, 15.84)
ax_b.set_ylim(-12.42, 12)
style(ax_b, [5, 7.5, 10, 12.5, 15], [6.25, 8.75, 11.25, 13.75], [-10, -5, 0, 5, 10], [-7.5, -2.5, 2.5, 7.5], lw=1.6)
ax_b.set_xticklabels(['5.0', '7.5', '10.0', '12.5', '15.0'])
ax_b.set_xlabel(r'log$_2$(Mean Expression)', fontsize=12.3, labelpad=3)
ax_b.set_ylabel('log$_2$(Fold Change in Decay/Synthesis\nRate Differences in  $\\mathit{NBDY}$ KO/WT)', fontsize=12.3)
ax_b.yaxis.set_label_coords(-0.09, 0.455)

# c
ax_c = panel(55, 415, 422, 783)
ax_c.fill_between(c_core_x, c_core_lo, c_core_hi, color='#535654', lw=0, zorder=2)
points(ax_c, c_points + expand(c_columns), '#585a59', 14, 0.85)
ax_c.axhline(0, color='#111111', lw=1.3, zorder=3.5)
ax_c.axvline(0, color='#111111', lw=1.3, zorder=3.5)
sns.lineplot(x=c_line_x, y=c_line_y, ax=ax_c, color='#dfe8e8', lw=3.5, zorder=4)
sns.lineplot(x=c_line_x, y=c_line_y, ax=ax_c, color='#b5202a', lw=1.8, zorder=4.1)
ax_c.set_xlim(-3.285, 3.38)
ax_c.set_ylim(-2.82, 3.43)
style(ax_c, [-2, 0, 2], [-3, -1, 1, 3], [-2, -1, 0, 1, 2, 3], [-2.5, -1.5, -0.5, 0.5, 1.5, 2.5], lw=1.6)
ax_c.set_xlabel(r'Δk$_{\mathrm{deg}}$ $\mathit{DCP2}$ KO / WT', fontsize=12.3, labelpad=3)
ax_c.set_ylabel(r'Δk$_{\mathrm{deg}}$ $\mathit{NBDY}$ KO / WT', fontsize=12.3)
ax_c.yaxis.set_label_coords(-0.055, 0.53)
ax_c.text(1.5, 3.17, 'τ = 0.138504', style='italic', fontsize=11, ha='left', va='center')
ax_c.text(1.49, 2.82, 'p < 2.2e-16', style='italic', fontsize=11, ha='left', va='center')

# d
ax_d = panel(741, 417, 1010, 764)
sns.barplot(x=go_values, y=go_terms, ax=ax_d, orient='y', color='#b92030', saturation=1, width=0.675, edgecolor='#d8707c', linewidth=0.6)
ax_d.set_xlim(0, 2.5)
ax_d.set_ylim(10.65, -0.5)
sns.despine(ax=ax_d, left=True, top=True, right=True)
ax_d.spines['bottom'].set_color('#111111')
ax_d.spines['bottom'].set_linewidth(1.2)
ax_d.set_xticks([0, 0.5, 1, 1.5, 2, 2.5])
ax_d.set_xticklabels(['0', '0.5', '1', '1.5', '2', '2.5'])
ax_d.tick_params(axis='x', length=3.5, width=1, color='#111111', labelsize=11, pad=4, bottom=True)
ax_d.tick_params(axis='y', length=0, pad=10, labelsize=10.85)
for lab in ax_d.get_yticklabels():
    lab.set_style('italic')
    lab.set_multialignment('center')
ax_d.set_xlabel('-log10(p-value of GO enrichment)', fontsize=12.5, fontweight='bold', labelpad=6, x=0.49)
ax_d.set_ylabel('')

# titles and panel letters
fig.text(234 / W, 1 - 18 / H, 'Genes with Log$_2$FC>0, pvalue < 0.05 (DEseq2)', color='#5b2a8c', fontsize=12.3, ha='center', va='center')
fig.text(234 / W, 1 - 41 / H, 'Genes with Log$_2$FC<0, pvalue < 0.05 (DEseq2)', color='#a89684', fontsize=12.3, ha='center', va='center')
fig.text(719 / W, 1 - 15.5 / H, 'Decay-driven increase in total RNA', color='#c8232c', fontsize=12.3, ha='center', va='center')
fig.text(719 / W, 1 - 36 / H, 'Synthesis-driven increase in total RNA', color='#2f3d96', fontsize=12.3, ha='center', va='center')
for letter, px, py in zip('abcd', [4, 451, 4, 449], [19, 17, 397, 396]):
    fig.text(px / W, 1 - py / H, letter, fontsize=18, fontweight='bold', ha='left', va='center', color='black')

fig.savefig('out.png', dpi=100)
